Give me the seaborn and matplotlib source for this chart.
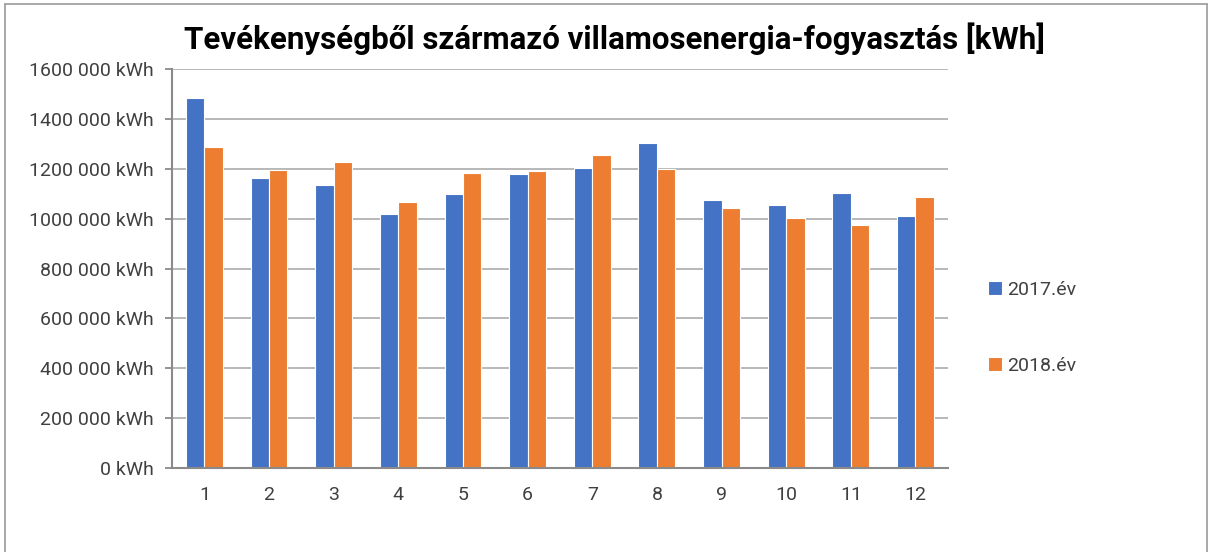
import matplotlib
matplotlib.use("Agg")
import matplotlib.pyplot as plt
import seaborn as sns
import pandas as pd
import numpy as np
from matplotlib.lines import Line2D

# data
months = [str(m) for m in range(1, 13)]
kwh_2017 = [1483000, 1164000, 1134000, 1018000, 1099000, 1179000,
            1203000, 1302000, 1076000, 1055000, 1103000, 1010000]
kwh_2018 = [1288000, 1195000, 1226000, 1067000, 1183000, 1192000,
            1255000, 1199000, 1043000, 1001000, 974000, 1088000]
series = ["2017.év", "2018.év"]
y_ticks = [0, 200000, 400000, 600000, 800000, 1000000, 1200000, 1400000, 1600000]
y_tick_labels = ["0 kWh", "200 000 kWh", "400 000 kWh", "600 000 kWh", "800 000 kWh",
                 "1000 000 kWh", "1200 000 kWh", "1400 000 kWh", "1600 000 kWh"]
title = "Tevékenységből származó villamosenergia-fogyasztás [kWh]"

df = pd.DataFrame({
    "honap": months * 2,
    "kwh": kwh_2017 + kwh_2018,
    "ev": [series[0]] * 12 + [series[1]] * 12,
})

sns.set_style("white")
plt.rcParams["font.family"] = ["Roboto", "DejaVu Sans"]

fig = plt.figure(figsize=(12.12, 5.52), dpi=100)
ax = fig.add_axes([0.142, 0.152, 0.640, 0.723])

sns.barplot(data=df, x="honap", y="kwh", hue="ev", order=months,
            palette=["#4472C4", "#ED7D31"], saturation=1, width=0.57,
            edgecolor="white", linewidth=0.8, ax=ax)

ax.set_ylim(0, 1600000)
ax.set_xlim(-0.5, 11.5)
ax.set_yticks(y_ticks)
ax.set_yticklabels(y_tick_labels)
ax.yaxis.grid(True, color="#b2b2b2", linewidth=1.3)
ax.set_axisbelow(True)
ax.set_xlabel("")
ax.set_ylabel("")

for side in ["top", "right"]:
    ax.spines[side].set_visible(False)
for side in ["left", "bottom"]:
    ax.spines[side].set_color("#8a8a8a")
    ax.spines[side].set_linewidth(1.5)

# x tick marks sit on the category boundaries
ax.set_xticks(np.arange(-0.5, 12, 1), minor=True)
ax.tick_params(axis="x", which="major", length=0, labelsize=14, labelcolor="#404040", pad=13)
ax.tick_params(axis="x", which="minor", length=5, width=1.3, color="#8a8a8a", direction="out")
ax.tick_params(axis="y", which="major", left=True, length=5, width=1.3, color="#8a8a8a",
               labelsize=14, labelcolor="#404040", pad=8)

ax.legend(loc="center left", bbox_to_anchor=(0.801, 0.406), bbox_transform=fig.transFigure,
          frameon=False, fontsize=14, handlelength=0.7, handleheight=0.7,
          handletextpad=0.25, labelspacing=3.0, labelcolor="#404040")

fig.text(0.507, 0.929, title, ha="center", va="center", fontsize=22.5, fontweight="bold",
         color="black")

# outer chart border
border = dict(color="#9a9a9a", linewidth=1.2, transform=fig.transFigure)
fig.add_artist(Line2D([5 / 1212, 1207 / 1212], [1 - 4 / 552, 1 - 4 / 552], **border))
fig.add_artist(Line2D([5 / 1212, 5 / 1212], [0, 1 - 4 / 552], **border))
fig.add_artist(Line2D([1207 / 1212, 1207 / 1212], [0, 1 - 4 / 552], **border))

fig.savefig("out.png", dpi=100)
